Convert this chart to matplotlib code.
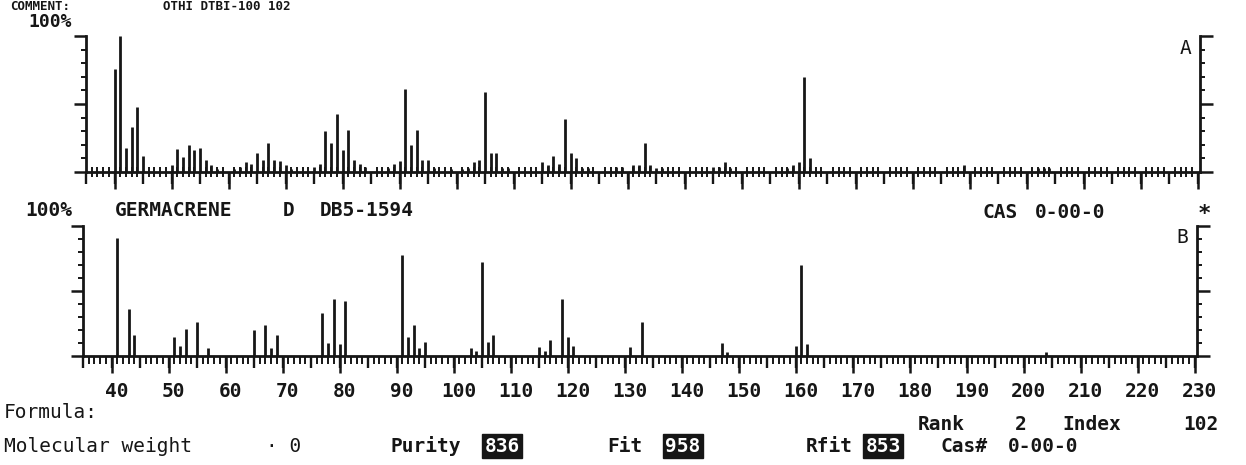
import matplotlib
matplotlib.use("Agg")
import matplotlib.pyplot as plt
import matplotlib.transforms as mtransforms
from matplotlib.ticker import MultipleLocator

W, H = 1246, 465
DPI = 100
INK = "#161616"
MONO = "DejaVu Sans Mono"

# panel A: unknown sample, m/z and relative abundance (%)
sample_mz = [40, 41, 42, 43, 44, 45, 50, 51, 52, 53, 54, 55, 56, 57, 58,
             61, 62, 63, 64, 65, 66, 67, 68, 69, 70, 71, 75, 76, 77, 78,
             79, 80, 81, 82, 83, 84, 88, 89, 90, 91, 92, 93, 94, 95, 96,
             99, 101, 102, 103, 104, 105, 106, 107, 108, 109, 115, 116, 117,
             118, 119, 120, 121, 122, 123, 128, 129, 131, 132, 133, 134, 135,
             136, 145, 146, 147, 148, 158, 159, 160, 161, 162, 189, 202, 203, 204]
sample_int = [76, 100, 18, 33, 48, 12, 5, 17, 11, 20, 16, 18, 9, 5, 2,
              2, 4, 7, 6, 14, 9, 21, 9, 8, 5, 2, 4, 6, 30, 21,
              43, 16, 31, 9, 6, 4, 3, 6, 8, 61, 20, 31, 9, 9, 3,
              2, 2, 3, 7, 9, 59, 14, 14, 3, 3, 7, 5, 12,
              6, 39, 14, 10, 3, 3, 4, 4, 5, 5, 21, 5, 3,
              3, 4, 4, 7, 3, 3, 5, 7, 70, 10, 5, 3, 3, 3]

# panel B: library hit, germacrene D
ref_mz = [41, 43, 44, 51, 52, 53, 55, 57, 65, 67, 68, 69, 77, 78, 79, 80, 81,
          91, 92, 93, 94, 95, 103, 104, 105, 106, 107, 115, 116, 117, 119, 120,
          121, 131, 133, 147, 148, 160, 161, 162, 204]
ref_int = [91, 36, 16, 15, 8, 21, 26, 6, 20, 24, 6, 16, 33, 10, 44, 9, 42,
           78, 15, 24, 6, 11, 6, 4, 72, 11, 16, 7, 4, 12, 44, 15,
           8, 7, 26, 10, 3, 8, 70, 9, 3]

mz_labels = list(range(40, 231, 10))

fig = plt.figure(figsize=(W / DPI, H / DPI), dpi=DPI)
fig.patch.set_facecolor("white")


def px_axes(left, top, right, bottom):
    return fig.add_axes((left / W, 1 - bottom / H, (right - left) / W, (bottom - top) / H))


def put(x, y, s, bold=True, size=14, va="center", **kw):
    fig.text(x / W, 1 - y / H, s, ha="left", va=va, color=INK,
             family=MONO, weight="bold" if bold else "normal", size=size, **kw)


def style_panel(ax, minor_dir, minor_len, show_labels):
    ax.set_xlim(35, 230.4)
    ax.set_ylim(0, 100)
    ax.spines["top"].set_visible(False)
    for side in ("left", "right", "bottom"):
        ax.spines[side].set_linewidth(2.0)
        ax.spines[side].set_color(INK)
    ax.xaxis.set_major_locator(MultipleLocator(5))
    ax.xaxis.set_minor_locator(MultipleLocator(1))
    ax.tick_params(axis="x", which="major", direction="out", length=8.5, width=1.7,
                   color=INK, labelbottom=False)
    ax.tick_params(axis="x", which="minor", direction=minor_dir, length=minor_len,
                   width=1.4, color=INK)
    ax.yaxis.set_major_locator(MultipleLocator(50))
    ax.yaxis.set_minor_locator(MultipleLocator(10))
    ax.tick_params(axis="y", which="both", left=True, right=True, direction="out",
                   labelleft=False, labelright=False, color=INK)
    ax.tick_params(axis="y", which="major", length=9, width=1.8)
    ax.tick_params(axis="y", which="minor", length=3.5, width=1.4)

    # every 10 gets the longest tick (and the label on the lower panel)
    sec = ax.secondary_xaxis(0)
    sec.spines["bottom"].set_visible(False)
    sec.set_xticks(mz_labels, labels=[str(v) for v in mz_labels])
    sec.tick_params(length=12.5, width=1.8, color=INK, pad=6,
                    labelbottom=show_labels, labelsize=14, labelcolor=INK)
    if show_labels:
        shift = mtransforms.ScaledTranslation(5 / DPI, 0, fig.dpi_scale_trans)
        for lab in sec.get_xticklabels():
            lab.set_family(MONO)
            lab.set_weight("bold")
            lab.set_transform(lab.get_transform() + shift)


axA = px_axes(86, 36, 1200, 172)
axA.vlines(sample_mz, 0, sample_int, colors=INK, linewidth=2.0)
style_panel(axA, "inout", 7.5, False)

axB = px_axes(83, 226, 1197, 356)
axB.vlines(ref_mz, 0, ref_int, colors=INK, linewidth=2.0)
style_panel(axB, "out", 5.5, True)

# header lines (the comment line sits at the very top edge of the scan)
put(10, 0, "COMMENT:", size=9, va="top")
put(163, 0, "OTHI DTBI-100 102", size=9, va="top")
put(28, 22, "100%", size=13)
put(1180, 48, "A", bold=False)

put(25, 210, "100%")
put(115, 210, "GERMACRENE")
put(283, 210, "D")
put(320, 210, "DB5-1594")
put(982, 212, "CAS")
put(1035, 212, "0-00-0")
put(1198, 214, "*", size=16)
put(1176, 237, "B", bold=False)

# footer
put(4, 412, "Formula:", bold=False)
put(918, 424, "Rank")
put(1015, 424, "2")
put(1062, 424, "Index")
put(1183, 424, "102")

put(4, 446, "Molecular weight", bold=False)
put(266, 446, "· 0", bold=False)
put(390, 446, "Purity")
put(607, 446, "Fit")
put(806, 446, "Rfit")
put(940, 446, "Cas#")
put(1008, 446, "0-00-0")

box = dict(boxstyle="square,pad=0.12", facecolor=INK, edgecolor=INK)
for x, s in ((502, "836"), (683, "958"), (883, "853")):
    fig.text(x / W, 1 - 446 / H, s, ha="center", va="center", color="white",
             family=MONO, weight="bold", size=14, bbox=box)

fig.savefig("out.png", dpi=DPI, facecolor="white")
